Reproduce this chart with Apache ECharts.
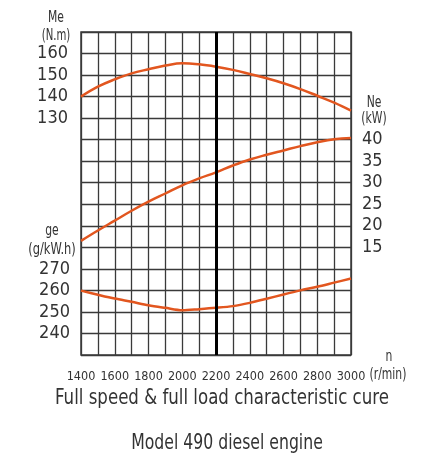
<!DOCTYPE html>
<html>
<head>
<meta charset="utf-8">
<script src="https://cdn.jsdelivr.net/npm/echarts@6/dist/echarts.min.js"></script>
<style>
  html, body { margin: 0; padding: 0; background: #fff; }
  #chart { width: 429px; height: 460px; }
</style>
</head>
<body>
<div id="chart"></div>
<script>
    // rotational speed n (r/min)
    var rotacoes = [1400, 1500, 1600, 1700, 1800, 1900, 2000, 2100, 2200, 2300, 2400, 2500, 2600, 2700, 2800, 2900, 3000];
    // torque Me (N.m)
    var torque = [140, 144.6, 148, 150.8, 152.7, 154.4, 155.5, 155, 153.9, 152.4, 150.5, 148.5, 146.2, 143.5, 140.4, 137.2, 133.5];
    // power Ne (kW)
    var potencia = [16.5, 18.9, 21.2, 23.5, 25.6, 27.5, 29.4, 31.0, 32.4, 34.0, 35.4, 36.5, 37.5, 38.5, 39.4, 40.1, 40.4];
    // fuel consumption ge (g/kW.h)
    var consumo = [259.9, 258, 256.2, 254.7, 253.1, 251.9, 250.8, 251.3, 251.9, 252.7, 254.2, 256.1, 258.1, 260, 261.7, 263.6, 265.5];

    var rotuloX = [1400, 1600, 1800, 2000, 2200, 2400, 2600, 2800, 3000];
    var rotuloMe = [130, 140, 150, 160];
    var rotuloGe = [240, 250, 260, 270];
    var rotuloNe = [15, 20, 25, 30, 35, 40];
    var rpmMarcada = 2200;

    var fonte = "'DejaVu Sans Condensed', 'DejaVu Sans', sans-serif";
    var corCurva = '#E2561F';
    var corGrade = '#3a3a3a';

    function pares(valores) {
        return rotacoes.map(function (n, i) {
            return [n, valores[i]];
        });
    }

    function filtro(lista) {
        return function (v) {
            return lista.indexOf(v) >= 0 ? String(v) : '';
        };
    }

    // narrow text, squeezed horizontally like the drafting font of the original
    function texto(x, y, t, tamanho, escala) {
        return {
            type: 'text',
            x: x,
            y: y,
            scaleX: escala,
            silent: true,
            style: {
                text: t,
                fill: '#333',
                font: tamanho + 'px ' + fonte,
                textAlign: 'center',
                textVerticalAlign: 'middle'
            }
        };
    }

    var dom = document.getElementById('chart');
    var chart = echarts.init(dom, null, { renderer: 'canvas' });

    chart.setOption({
        animation: false,
        backgroundColor: '#fff',
        grid: {
            left: 81,
            right: 78,
            top: 32,
            bottom: 105,
            show: true,
            borderColor: corGrade,
            borderWidth: 1.5
        },
        xAxis: {
            type: 'value',
            min: 1400,
            max: 3000,
            interval: 100,
            axisLine: { show: false },
            axisTick: { show: false },
            splitLine: { show: true, lineStyle: { color: corGrade, width: 1.3 } },
            axisLabel: {
                margin: 15,
                color: '#333',
                fontFamily: fonte,
                fontSize: 12.5,
                formatter: filtro(rotuloX)
            }
        },
        yAxis: [
            {
                type: 'value',
                position: 'left',
                min: 20,
                max: 170,
                interval: 10,
                axisLine: { show: false },
                axisTick: { show: false },
                splitLine: { show: true, lineStyle: { color: corGrade, width: 1.3 } },
                axisLabel: {
                    margin: 13,
                    color: '#333',
                    fontFamily: fonte,
                    fontSize: 18,
                    formatter: filtro(rotuloMe)
                }
            },
            {
                type: 'value',
                position: 'left',
                min: 230,
                max: 380,
                interval: 10,
                axisLine: { show: false },
                axisTick: { show: false },
                splitLine: { show: false },
                axisLabel: {
                    margin: 11,
                    color: '#333',
                    fontFamily: fonte,
                    fontSize: 18,
                    formatter: filtro(rotuloGe)
                }
            },
            {
                type: 'value',
                position: 'right',
                min: -10,
                max: 65,
                interval: 5,
                axisLine: { show: false },
                axisTick: { show: false },
                splitLine: { show: false },
                axisLabel: {
                    margin: 11,
                    color: '#333',
                    fontFamily: fonte,
                    fontSize: 18,
                    formatter: filtro(rotuloNe)
                }
            }
        ],
        series: [
            {
                name: 'Me',
                type: 'line',
                yAxisIndex: 0,
                smooth: 0.4,
                showSymbol: false,
                color: corCurva,
                lineStyle: { width: 2.5 },
                data: pares(torque),
                markLine: {
                    silent: true,
                    symbol: 'none',
                    label: { show: false },
                    lineStyle: { color: '#000', width: 3, type: 'solid' },
                    data: [{ xAxis: rpmMarcada }]
                }
            },
            {
                name: 'Ne',
                type: 'line',
                yAxisIndex: 2,
                smooth: 0.4,
                showSymbol: false,
                color: corCurva,
                lineStyle: { width: 2.5 },
                data: pares(potencia)
            },
            {
                name: 'ge',
                type: 'line',
                yAxisIndex: 1,
                smooth: 0.3,
                showSymbol: false,
                color: corCurva,
                lineStyle: { width: 2.5 },
                data: pares(consumo)
            }
        ],
        graphic: [
            texto(56, 18, 'Me', 15, 0.8),
            texto(56, 36, '(N.m)', 15, 0.75),
            texto(52, 231, 'ge', 15, 0.8),
            texto(52, 250, '(g/kW.h)', 15, 0.85),
            texto(374, 103, 'Ne', 15, 0.8),
            texto(374, 119, '(kW)', 15, 0.8),
            texto(389, 357, 'n', 15, 0.8),
            texto(388, 375, '(r/min)', 15, 0.8),
            texto(222, 399, 'Full speed & full load characteristic cure', 21, 0.88),
            texto(227, 444, 'Model 490 diesel engine', 21, 0.83)
        ]
    });

    window.addEventListener('resize', chart.resize);
</script>
</body>
</html>
